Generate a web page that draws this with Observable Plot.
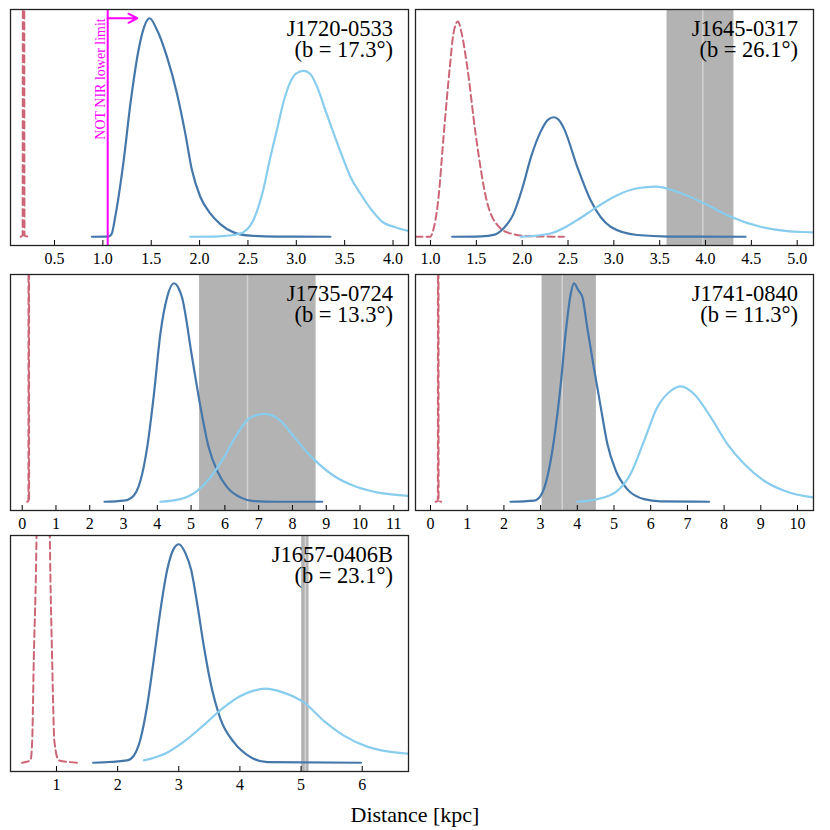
<!DOCTYPE html>
<html><head><meta charset="utf-8">
<script src="https://cdn.jsdelivr.net/npm/d3@7"></script>
<script src="https://cdn.jsdelivr.net/npm/@observablehq/plot@0.6"></script>
<style>
body{margin:0;background:#fff;}
#root{position:relative;width:830px;height:830px;background:#fff;font-family:"Liberation Serif","Times New Roman",serif;overflow:hidden;}
.panel{position:absolute;}
.panel text, .panel tspan{font-family:"Liberation Serif","Times New Roman",serif !important;}
#xlabel{position:absolute;left:0;width:830px;top:802px;text-align:center;font-size:22px;color:#000;}
</style></head><body><div id="root"><div id="xlabel">Distance [kpc]</div></div>
<script>
// ---- data ----
const names = ["J1720-0533", "J1645-0317", "J1735-0724", "J1741-0840", "J1657-0406B"];
const latitudes = ["17.3", "26.1", "13.3", "11.3", "23.1"];
const xDomains = [[0.045, 4.16], [0.836, 5.178], [-0.346, 11.435], [-0.409, 10.436], [0.248, 6.757]];
const xTicks = [
  [0.5, 1.0, 1.5, 2.0, 2.5, 3.0, 3.5, 4.0],
  [1.0, 1.5, 2.0, 2.5, 3.0, 3.5, 4.0, 4.5, 5.0],
  [0, 1, 2, 3, 4, 5, 6, 7, 8, 9, 10, 11],
  [0, 1, 2, 3, 4, 5, 6, 7, 8, 9, 10],
  [1, 2, 3, 4, 5, 6]
];
const tickDecimals = [1, 1, 0, 0, 0];
// shaded range [low, centre, high]
const bands = [null, [3.58, 3.97, 4.31], [5.25, 6.67, 8.70], [3.04, 3.59, 4.52], [5.01, 5.07, 5.13]];
// NOT NIR lower limit (panel 1): position, arrow height, arrow end
const nirLimit = [1.05];
const nirArrowY = [1.0];
const nirArrowTo = [1.355];

// distance distributions [distance kpc, relative density]
const red_J1720 = [[0.15,0],[0.17,0.005],[0.18,6],[0.19,0.005],[0.23,0]];
const dark_J1720 = [[0.886,0],[1.06,0.002],[1.09,0.012],[1.128,0.092],[1.207,0.321],[1.29,0.626],[1.369,0.855],[1.428,0.962],[1.483,1.0],[1.559,0.947],[1.662,0.824],[1.766,0.656],[1.852,0.473],[1.921,0.305],[2.007,0.183],[2.11,0.107],[2.214,0.058],[2.352,0.02],[2.524,0.005],[2.8,0.001],[3.352,0]];
const light_J1720 = [[1.903,0],[2.2,0.002],[2.352,0.008],[2.45,0.02],[2.56,0.08],[2.65,0.2],[2.73,0.36],[2.8,0.49],[2.87,0.62],[2.94,0.71],[3.0,0.748],[3.076,0.759],[3.145,0.745],[3.214,0.687],[3.3,0.58],[3.386,0.473],[3.49,0.351],[3.559,0.275],[3.662,0.198],[3.766,0.13],[3.903,0.064],[4.007,0.046],[4.162,0.026],[4.3,0.015]];

const red_J1645 = [[0.836,0],[1.0,0],[1.018,0.015],[1.084,0.168],[1.145,0.473],[1.211,0.779],[1.25,0.93],[1.298,0.985],[1.34,0.93],[1.4,0.779],[1.491,0.473],[1.611,0.168],[1.745,0.046],[1.873,0.015],[2.1,0.002],[2.455,0]];
const dark_J1645 = [[1.236,0],[1.55,0.002],[1.7,0.01],[1.8,0.04],[1.9,0.1],[2.0,0.22],[2.1,0.37],[2.2,0.48],[2.28,0.535],[2.345,0.547],[2.4,0.534],[2.455,0.496],[2.6,0.321],[2.745,0.168],[2.964,0.046],[3.255,0.008],[3.6,0.001],[4.436,0]];
const light_J1645 = [[1.982,0],[2.309,0.015],[2.6,0.076],[2.818,0.137],[3.036,0.19],[3.255,0.222],[3.455,0.229],[3.691,0.206],[3.982,0.153],[4.273,0.092],[4.6,0.046],[4.891,0.026],[5.18,0.02],[5.3,0.017]];

const red_J1735 = [[0.15,0],[0.185,0.005],[0.195,8],[0.205,0.005],[0.245,0]];
const dark_J1735 = [[2.436,0],[3.008,0.005],[3.25,0.02],[3.5,0.096],[3.7,0.249],[3.9,0.493],[4.09,0.768],[4.29,0.936],[4.49,1.0],[4.64,0.974],[4.73,0.936],[5.03,0.66],[5.28,0.432],[5.52,0.249],[5.77,0.142],[6.07,0.066],[6.46,0.02],[6.85,0.003],[7.5,0],[8.88,0]];
const light_J1735 = [[4.09,0],[4.68,0.012],[5.18,0.05],[5.57,0.111],[5.97,0.203],[6.36,0.31],[6.76,0.386],[7.2,0.402],[7.64,0.371],[8.14,0.279],[8.63,0.195],[9.22,0.119],[9.81,0.073],[10.5,0.043],[11.44,0.027],[11.6,0.025]];

const red_J1741 = [[0.14,0],[0.2,0.005],[0.21,8],[0.22,0.005],[0.29,0]];
const dark_J1741 = [[2.18,0],[2.82,0.005],[3.0,0.027],[3.18,0.111],[3.36,0.279],[3.55,0.539],[3.68,0.768],[3.82,0.951],[3.91,1.0],[4.02,0.97],[4.14,0.936],[4.27,0.798],[4.45,0.615],[4.64,0.432],[4.82,0.264],[5.05,0.142],[5.36,0.058],[5.82,0.012],[6.27,0.002],[7.59,0]];
const light_J1741 = [[4.0,0],[4.55,0.012],[5.09,0.05],[5.45,0.127],[5.82,0.279],[6.18,0.432],[6.55,0.508],[6.82,0.528],[7.18,0.493],[7.64,0.386],[8.09,0.264],[8.55,0.173],[9.09,0.096],[9.64,0.05],[10.45,0.02],[10.6,0.018]];

const red_J1657 = [[0.438,0],[0.575,0.011],[0.602,0.094],[0.629,0.473],[0.673,1.033],[0.78,5.5],[0.891,1.033],[0.929,0.473],[0.967,0.094],[1.038,0.011],[1.365,0]];
const dark_J1657 = [[1.6,0],[2.156,0.011],[2.265,0.033],[2.374,0.109],[2.483,0.261],[2.592,0.473],[2.701,0.7],[2.81,0.882],[2.919,0.98],[3.0,1.0],[3.11,0.958],[3.203,0.882],[3.3,0.73],[3.41,0.533],[3.519,0.367],[3.683,0.2],[3.9,0.094],[4.173,0.026],[4.45,0.003],[5.98,0]];
const light_J1657 = [[2.43,0.011],[2.8,0.045],[3.1,0.1],[3.4,0.17],[3.7,0.245],[4.0,0.304],[4.2,0.328],[4.42,0.339],[4.7,0.322],[5.046,0.276],[5.373,0.192],[5.7,0.124],[6.082,0.074],[6.409,0.052],[6.763,0.041],[6.9,0.038]];

const redSeries = [red_J1720, red_J1645, red_J1735, red_J1741, red_J1657];
const darkSeries = [dark_J1720, dark_J1645, dark_J1735, dark_J1741, dark_J1657];
const lightSeries = [light_J1720, light_J1645, light_J1735, light_J1741, light_J1657];

// ---- layout & drawing ----
const SERIF = "'Liberation Serif', 'Times New Roman', serif";
const positions = [[0, 0], [405, 0], [0, 265], [405, 265], [0, 526]];
const W = 420, H = 274, mL = 10, mR = 12, mT = 9, mB = 29;
const frameH = H - mT - mB;
const C_DARK = "#4477AA", C_LIGHT = "#88CCEE", C_RED = "#CC6677", C_MAG = "#ff00ff";
const root = document.getElementById("root");

names.forEach((name, i) => {
  const marks = [];
  const band = bands[i];
  if (band) {
    marks.push(Plot.rect([band], {x1: d => d[0], x2: d => d[2], fill: "#b3b3b3"}));
    marks.push(Plot.ruleX([band[1]], {x: d => d, stroke: "#d2d2d2", strokeWidth: 1.5}));
  }
  const lineOpts = {x: d => d[0], y: d => d[1], curve: "monotone-x", clip: true};
  marks.push(Plot.line(redSeries[i], {...lineOpts, stroke: C_RED, strokeWidth: 2, strokeDasharray: "7,4"}));
  marks.push(Plot.line(darkSeries[i], {...lineOpts, stroke: C_DARK, strokeWidth: 2.2}));
  marks.push(Plot.line(lightSeries[i], {...lineOpts, stroke: C_LIGHT, strokeWidth: 2.2}));
  if (i === 0) {
    marks.push(Plot.ruleX(nirLimit, {x: d => d, stroke: C_MAG, strokeWidth: 2}));
    marks.push(Plot.arrow(nirLimit, {x1: d => d, x2: (d, j) => nirArrowTo[j], y1: (d, j) => nirArrowY[j], y2: (d, j) => nirArrowY[j],
      stroke: C_MAG, strokeWidth: 2, headLength: 13, headAngle: 55}));
    marks.push(Plot.text(nirLimit, {x: d => d, y: (d, j) => nirArrowY[j], text: () => "NOT NIR lower limit",
      rotate: -90, textAnchor: "end", lineAnchor: "bottom", dx: -2.5, fill: C_MAG, fontSize: 14, fontFamily: SERIF}));
  }
  const dec = tickDecimals[i];
  marks.push(Plot.ruleX(xTicks[i], {x: d => d, insetTop: frameH - 5, stroke: "#000", strokeWidth: 1}));
  marks.push(Plot.axisX(xTicks[i], {tickSize: 0, tickPadding: 7, tickFormat: d => d.toFixed(dec), fontSize: 16, fontFamily: SERIF, fill: "#000"}));
  marks.push(Plot.text([name], {text: d => d, frameAnchor: "top-right", textAnchor: "end",
    lineAnchor: "bottom", dx: -15.5, dy: 26, fontSize: 22.5, fontFamily: SERIF, fill: "#000"}));
  marks.push(Plot.text([latitudes[i]], {text: d => "(b = " + d + "°)", frameAnchor: "top-right", textAnchor: "end",
    lineAnchor: "bottom", dx: -15.5, dy: 47.5, fontSize: 22.5, fontFamily: SERIF, fill: "#000"}));
  marks.push(Plot.frame({stroke: "#222", strokeWidth: 1.3}));

  const chart = Plot.plot({
    width: W, height: H,
    marginLeft: mL, marginRight: mR, marginTop: mT, marginBottom: mB,
    x: {domain: xDomains[i]},
    y: {domain: [-0.04, 1.04], axis: null},
    style: "font-family: 'Liberation Serif', 'Times New Roman', serif; font-size: 16px; background: transparent; color: #000;",
    marks
  });
  chart.classList.add("panel");
  chart.style.left = positions[i][0] + "px";
  chart.style.top = positions[i][1] + "px";
  root.appendChild(chart);
});
</script></body></html>
